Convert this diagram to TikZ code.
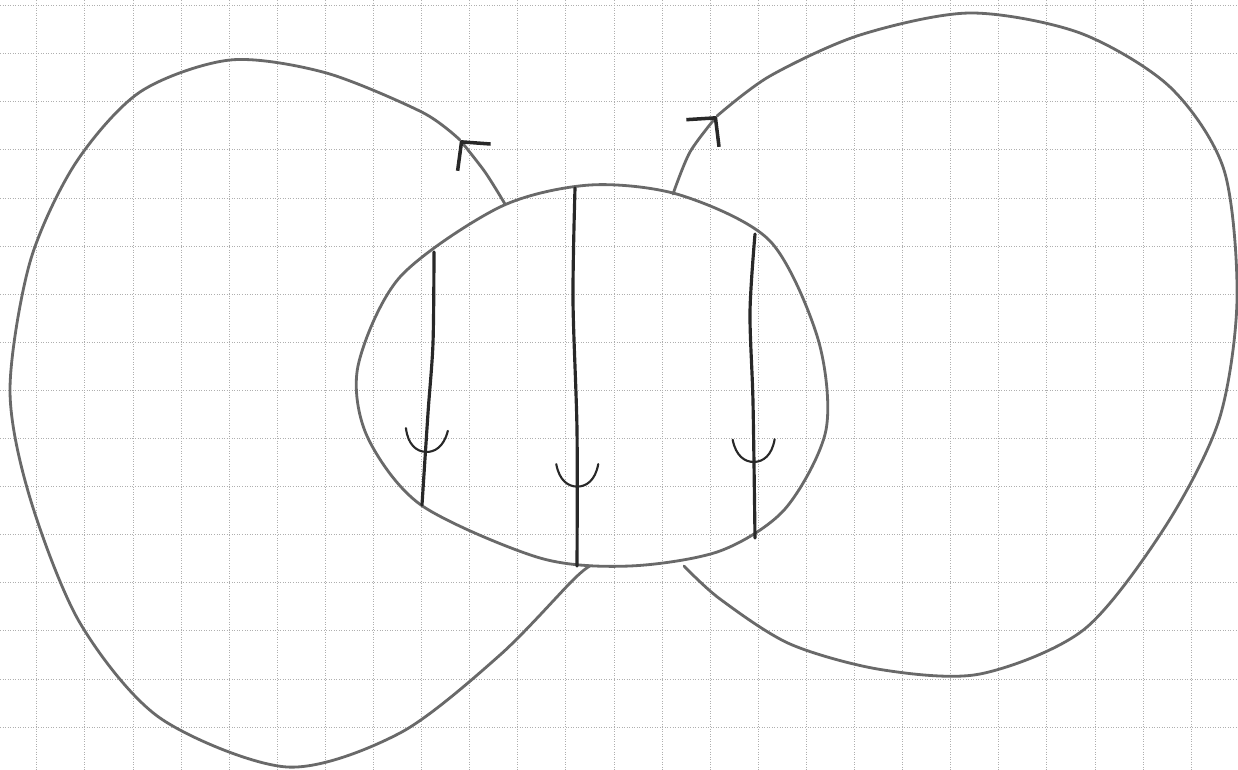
\documentclass[tikz,border=0pt]{standalone}
\usepackage{tikz}
\usetikzlibrary{arrows.meta,decorations.markings}
\definecolor{pencil}{RGB}{105,105,105}
\definecolor{pencildark}{RGB}{40,40,40}
\definecolor{gridgrey}{RGB}{175,175,175}

\begin{document}
\begin{tikzpicture}[x=0.02cm, y=-0.02cm,
    gridline/.style={densely dotted, gridgrey, line width=0.45pt},
    loopline/.style={pencil, line width=1.6pt, line cap=round},
    flowline/.style={pencildark, line width=1.8pt, line cap=round,
        postaction={decorate}, decoration={markings,
        mark=at position #1 with {\draw[line width=1.2pt, line cap=round]
            (-4.5mm,4.2mm) .. controls (-1.2mm,3.6mm) and (0,1.8mm) .. (0,0)
            .. controls (0,-1.8mm) and (-1.2mm,-3.6mm) .. (-4.5mm,-4.2mm);}}},
    flowline/.default=0.78,
    looptip/.style={-{Straight Barb[length=4mm, width=8.5mm, line width=2pt, color=pencildark]}}
]
    \useasboundingbox (0,0) rectangle (1238,770);
    \fill[white] (0,0) rectangle (1238,770);

    % squared paper
    \foreach \k in {1,...,25}
        \draw[gridline] ({-11.4+48.1*\k},0) -- ({-11.4+48.1*\k},770);
    \foreach \k in {0,...,15}
        \draw[gridline] (0,{5.5+48.1*\k}) -- (1238,{5.5+48.1*\k});

    % points on the middle oval
    \coordinate (lstart) at (505,204);
    \coordinate (lend) at (590,566);
    \coordinate (rstart) at (673,194);
    \coordinate (rend) at (684,566);
    \coordinate (ltip) at (460,140);
    \coordinate (rtip) at (717,116);

    % middle oval
    \draw[loopline] plot[smooth cycle] coordinates {(590,185) (680,195) (770,241)
        (818,339) (826,430) (785,509) (720,551) (630,566) (540,558) (421,505)
        (367,436) (358,366) (400,277) (500,207)};

    % three lines through the oval
    \coordinate (atop) at (434,252);
    \coordinate (abot) at (422,505);
    \coordinate (btop) at (575,188);
    \coordinate (bbot) at (577,566);
    \coordinate (ctop) at (755,234);
    \coordinate (cbot) at (755,538);
    \draw[flowline=0.79] plot[smooth] coordinates {(atop) (433,343) (428,413) (abot)};
    \draw[flowline=0.79] plot[smooth] coordinates {(btop) (573,300) (577,430) (bbot)};
    \draw[flowline=0.75] plot[smooth] coordinates {(ctop) (750,312) (753,402) (cbot)};

    % left loop
    \draw[loopline, looptip] plot[smooth] coordinates {(lstart) (485,172) (ltip)};
    \draw[loopline] plot[smooth] coordinates {(ltip) (421.7,112) (325,72.6) (230,60)
        (140,92) (75,164) (30,262) (10,390) (30,498) (80,623) (160,718) (287,767)
        (400,733) (500,655) (573,580) (lend)};

    % right loop
    \draw[loopline, looptip] plot[smooth] coordinates {(rstart) (690,152) (rtip)};
    \draw[loopline] plot[smooth] coordinates {(rtip) (770,76) (860,35) (970,13)
        (1080,33) (1170,87) (1224,170) (1237,300) (1219,420) (1165,527) (1084,629.5)
        (980,674) (881,669.6) (790,644) (720,599) (rend)};
\end{tikzpicture}
\end{document}
